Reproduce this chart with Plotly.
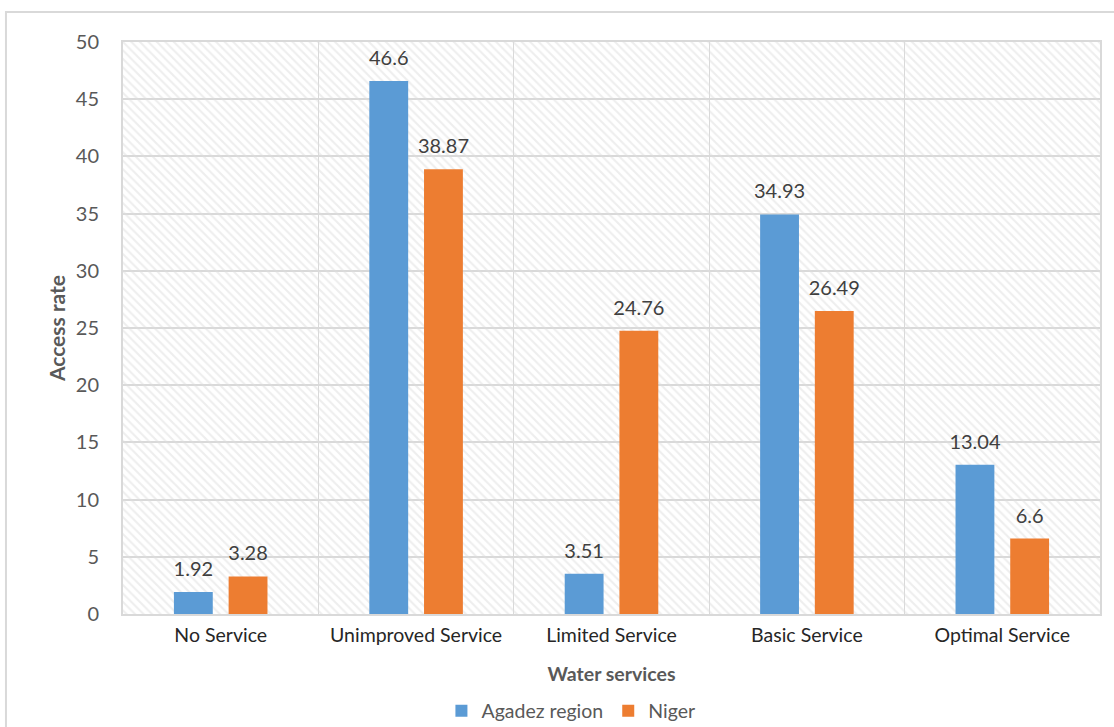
import plotly.graph_objects as go

categories = ["No Service", "Unimproved Service", "Limited Service", "Basic Service", "Optimal Service"]
agadez = [1.92, 46.6, 3.51, 34.93, 13.04]
niger = [3.28, 38.87, 24.76, 26.49, 6.6]
series_names = ["Agadez region", "Niger"]
y_max = 50

BLUE = "#5B9BD5"
ORANGE = "#ED7D31"
GRID = "#D9D9D9"
TEXT = "#595959"
FONT = "Lato, Carlito, Calibri, sans-serif"
GAP = 0.44

fig = go.Figure()

# hatched plot-area background (transparent gaps let the gridlines show)
fig.add_trace(go.Bar(
    x=[len(categories) / 2], y=[y_max], width=[len(categories)],
    xaxis="x", yaxis="y",
    marker=dict(color="rgba(0,0,0,0)", line=dict(width=0),
                pattern=dict(shape="\\", fgcolor="#DDDDDD", bgcolor="rgba(0,0,0,0)",
                             size=6, solidity=0.35)),
    showlegend=False, hoverinfo="skip",
))

series = [(series_names[0], agadez, BLUE), (series_names[1], niger, ORANGE)]
for name, vals, col in series:
    fig.add_trace(go.Bar(
        x=categories, y=vals, name=name, xaxis="x2", yaxis="y",
        marker=dict(color=col, line=dict(width=0)),
    ))

# value labels: grouped text points sitting above each bar
for name, vals, col in series:
    fig.add_trace(go.Scatter(
        x=categories, y=vals, xaxis="x2", yaxis="y", mode="text+markers",
        marker=dict(size=16, opacity=0, color=col),
        text=[f"{v:g}" for v in vals], textposition="top center",
        textfont=dict(size=20, color="#404040", family=FONT),
        cliponaxis=False, showlegend=False, hoverinfo="skip",
    ))

fig.update_layout(
    width=1114, height=727,
    margin=dict(l=123, r=14, t=42, b=113, autoexpand=False),
    paper_bgcolor="white", plot_bgcolor="white",
    font=dict(family=FONT, color=TEXT),
    barmode="group", bargap=GAP, bargroupgap=0.29,
    scattermode="group", scattergap=GAP,
    xaxis=dict(range=[0, len(categories)], dtick=1, showgrid=True, gridcolor=GRID, gridwidth=1,
               showticklabels=False, zeroline=False, showline=True, linecolor=GRID,
               linewidth=2, mirror=True, fixedrange=True),
    xaxis2=dict(overlaying="x", side="bottom", type="category", showgrid=False,
                range=[-0.5, len(categories) - 0.5], showline=False, automargin=False,
                tickfont=dict(size=19.5, color="#262626"), ticks="", ticklabelstandoff=7,
                title=dict(text="<b>Water services</b>", font=dict(size=19.5, color=TEXT), standoff=22)),
    yaxis=dict(range=[0, y_max], dtick=5, showgrid=True, gridcolor=GRID, gridwidth=2, zeroline=False,
               showline=True, linecolor=GRID, linewidth=2, mirror=True, automargin=False,
               tickfont=dict(size=20, color=TEXT), ticklabelstandoff=18,
               title=dict(text="<b>Access rate</b>", font=dict(size=21, color=TEXT), standoff=4)),
    legend=dict(orientation="h", xref="container", x=0.5125, xanchor="center",
                yref="container", y=0.022, yanchor="middle",
                font=dict(size=19.5, color=TEXT), itemwidth=30, traceorder="normal"),
    shapes=[dict(type="rect", xref="paper", yref="paper", x0=-0.1198, x1=1.03, y0=-0.21, y1=1.0524,
                 line=dict(color="#D9D9D9", width=2), fillcolor="rgba(0,0,0,0)", layer="below")],
)

fig.write_html("out.html")
